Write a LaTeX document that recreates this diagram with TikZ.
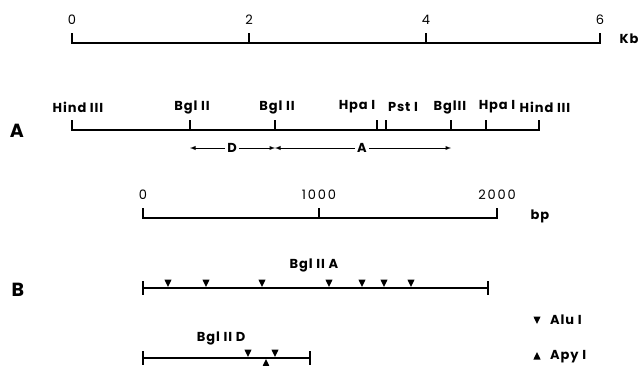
\documentclass[tikz,border=0pt]{standalone}
\usepackage{fontspec}
\setmainfont{Poppins}
\newfontfamily\labfont[LetterSpace=7]{Poppins}
\newfontfamily\numfont[LetterSpace=14]{Poppins}
\newcommand\dtri[2]{\fill (#1,#2) ++(-3.6,-7.5) -- ++(7.2,0) -- ++(-3.6,7.5) -- cycle;}
\newcommand\utri[2]{\fill (#1,#2) ++(-3.6,7.5) -- ++(7.2,0) -- ++(-3.6,-7.5) -- cycle;}
\begin{document}
\begin{tikzpicture}[x=1pt,y=-1pt,
  rule/.style={line width=1.7pt},
  lab/.style={font=\labfont\bfseries\fontsize{13}{15}\selectfont, inner sep=0pt},
  num/.style={font=\numfont\fontsize{13}{15}\selectfont, inner sep=0pt},
  big/.style={font=\bfseries\fontsize{19}{21}\selectfont, inner sep=0pt},
  arr/.style={line width=0.9pt, -latex}]
\useasboundingbox (0,0) rectangle (641,365);
% top scale
\draw[rule] (72,33) -- (72,43) -- (600,43) -- (600,33);
\draw[rule] (249,33) -- (249,43);
\draw[rule] (426,33) -- (426,43);
\node[num] (k0) at (72,20) {0};
\node[num] (k2) at (249,20) {2};
\node[num] (k4) at (426,20) {4};
\node[num] (k6) at (600,20) {6};
\node[lab] (kb) at (629,39) {Kb};
% restriction map A
\node[big] (labA) at (17,131) {A};
\draw[rule] (72,120) -- (72,130) -- (539,130) -- (539,120);
\foreach \x in {190,275,377,386,451,486} \draw[rule] (\x,120) -- (\x,130);
\node[lab] (h1) at (78,107) {Hind III};
\node[lab] (b1) at (192,107) {Bgl II};
\node[lab] (b2) at (277,107) {Bgl II};
\node[lab] (p1) at (357,107) {Hpa I};
\node[lab] (s1) at (403,107) {Pst I};
\node[lab] (b3) at (450,107) {BglII};
\node[lab] (p2) at (497,107) {Hpa I};
\node[lab] (h2) at (545,107) {Hind III};
% fragment arrows
\coordinate (d1) at (190,148);
\coordinate (d2) at (275,148);
\coordinate (a2) at (451,148);
\node[lab, fill=white, inner xsep=2pt] (fD) at (232,148) {D};
\node[lab, fill=white, inner xsep=2pt] (fA) at (362,148) {A};
\draw[arr] (fD) -- (d1);
\draw[arr] (fD) -- (d2);
\draw[arr] (fA) -- (d2);
\draw[arr] (fA) -- (a2);
% bp scale
\draw[rule] (143,208) -- (143,218) -- (497,218) -- (497,208);
\draw[rule] (319,208) -- (319,218);
\node[num] (n0) at (143,195) {0};
\node[num] (n1) at (319,195) {1000};
\node[num] (n2) at (497,195) {2000};
\node[lab] (bp) at (540,216) {bp};
% B
\node[big] (labB) at (18,290) {B};
\draw[rule] (143,288) -- (488,288);
\draw[line width=1.7pt] (143,281) -- (143,295);
\draw[line width=1.7pt] (488,281) -- (488,295);
\foreach \x in {168,206,262,329,362,384,411} {\dtri{\x}{287}}
\node[lab] (fragA) at (314,265) {Bgl II A};
\node[lab] (fragD) at (221,338) {Bgl II D};
\draw[rule] (143,358) -- (310,358);
\draw[line width=1.7pt] (143,351) -- (143,365);
\draw[line width=1.7pt] (310,351) -- (310,365);
\dtri{248}{357}
\dtri{275}{357}
\utri{266}{359}
% legend
\dtri{537}{324}
\node[lab, anchor=west] (alu) at (550,320) {Alu I};
\utri{537}{352}
\node[lab, anchor=west] (apy) at (550,357) {Apy I};
\end{tikzpicture}
\end{document}
